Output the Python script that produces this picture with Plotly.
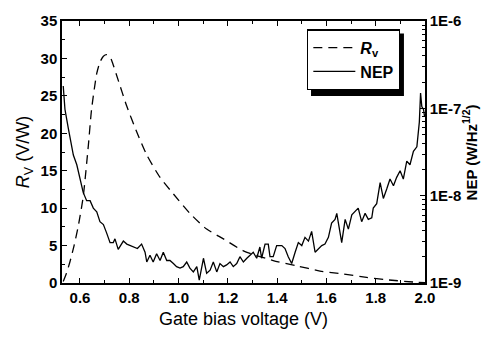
import numpy as np
import plotly.graph_objects as go

# ---- data ----
volt_rv = [0.532, 0.545, 0.559, 0.576, 0.593, 0.613, 0.634, 0.647, 0.668, 0.681, 0.695, 0.708,
           0.720, 0.729, 0.755, 0.790, 0.830, 0.871, 0.925, 0.979, 1.046, 1.114, 1.182, 1.263,
           1.384, 1.479, 1.574, 1.669, 1.763, 1.845, 1.953, 2.0]
rv = [0.2, 1.3, 2.8, 5.0, 7.6, 11.5, 18.4, 23.2, 28.0, 29.5, 30.3, 30.5,
      30.3, 29.7, 27.1, 23.6, 20.2, 17.1, 14.1, 11.9, 9.3, 7.2, 5.9, 4.3,
      3.0, 2.3, 1.6, 1.2, 0.74, 0.43, 0.13, 0.05]

volt_nep = [0.532, 0.539, 0.553, 0.573, 0.587, 0.600, 0.613, 0.627, 0.641, 0.654,
            0.668, 0.681, 0.695, 0.708, 0.722, 0.735, 0.742, 0.755, 0.776, 0.790,
            0.803, 0.816, 0.833, 0.850, 0.864, 0.871, 0.884, 0.897, 0.911, 0.925,
            0.938, 0.952, 0.965, 0.979, 0.992, 1.006, 1.019, 1.033, 1.046, 1.060,
            1.074, 1.084, 1.094, 1.101, 1.114, 1.128, 1.141, 1.155, 1.168, 1.182,
            1.195, 1.209, 1.222, 1.236, 1.249, 1.263, 1.277, 1.290, 1.303, 1.317,
            1.330, 1.337, 1.351, 1.364, 1.371, 1.384, 1.398, 1.419, 1.432, 1.445,
            1.459, 1.473, 1.486, 1.500, 1.513, 1.527, 1.540, 1.554, 1.567, 1.581,
            1.594, 1.608, 1.621, 1.635, 1.642, 1.655, 1.662, 1.676, 1.689, 1.703,
            1.716, 1.729, 1.743, 1.757, 1.770, 1.784, 1.790, 1.804, 1.818, 1.831,
            1.845, 1.858, 1.872, 1.885, 1.899, 1.912, 1.926, 1.939, 1.953, 1.967,
            1.977, 1.982, 1.987, 1.994, 1.998]
# NEP in units of 1e-9 W/Hz^1/2
nep_n = [180, 97.3, 58.3, 29.2, 22.6, 16.2, 10.9, 8.77, 8.77, 7.20,
         6.52, 5.04, 4.66, 3.75, 2.90, 2.90, 3.20, 2.43, 3.02, 2.79,
         2.68, 2.58, 2.48, 2.79, 2.25, 1.74, 2.08, 1.74, 2.16, 1.81,
         2.25, 1.81, 1.81, 1.67, 1.54, 1.48, 1.54, 1.74, 1.48, 1.34,
         1.54, 1.08, 1.48, 1.92, 1.29, 1.40, 1.74, 1.34, 1.67, 1.54,
         1.61, 1.74, 1.54, 1.67, 2.00, 1.74, 1.92, 2.08, 2.25, 1.92,
         2.58, 1.92, 2.79, 2.79, 2.00, 2.00, 2.68, 2.68, 2.48, 2.00,
         1.67, 2.25, 2.90, 2.68, 3.33, 3.02, 3.90, 2.25, 2.48, 2.68,
         2.79, 3.33, 4.85, 5.35, 6.27, 3.75, 2.90, 5.35, 4.14, 6.03,
         6.52, 7.20, 5.04, 6.27, 5.35, 5.57, 7.20, 8.10, 14.1, 9.30,
         12.0, 15.5, 13.0, 16.2, 19.3, 15.5, 24.9, 22.6, 32.2, 36.3,
         69.6, 150, 105, 97.3, 81.5]
nep = (np.array(nep_n) * 1e-9).tolist()

x_ticks = [0.6, 0.8, 1.0, 1.2, 1.4, 1.6, 1.8, 2.0]
x_ticktext = ["0.6", "0.8", "1.0", "1.2", "1.4", "1.6", "1.8", "2.0"]
y2_ticks = [1e-9, 1e-8, 1e-7, 1e-6]
y2_ticktext = ["1E-9", "1E-8", "1E-7", "1E-6"]

# ---- styling ----
FONT = "Liberation Sans, Arial, sans-serif"
tickfont = dict(family=FONT, size=15, color="black", weight="bold")
y2_minor = [k * 10.0 ** e for e in (-9, -8, -7) for k in range(2, 10)]

fig = go.Figure()
fig.add_trace(go.Scatter(
    x=volt_rv, y=rv, mode="lines", name="<i>R</i><sub>v</sub>",
    legendgroup="a",
    line=dict(color="black", width=1.3, dash="9px,6px", shape="spline", smoothing=0.6),
))
fig.add_trace(go.Scatter(
    x=volt_nep, y=nep, mode="lines", name="NEP", yaxis="y2",
    legendgroup="b",
    line=dict(color="black", width=1.3),
))

axis_common = dict(showline=True, linecolor="black", linewidth=1.5, ticks="inside",
                   tickcolor="black", tickwidth=1.3, showgrid=False, zeroline=False,
                   tickfont=tickfont)

fig.update_layout(
    width=492, height=338,
    margin=dict(l=62, r=67, t=16, b=53),
    paper_bgcolor="white", plot_bgcolor="white",
    font=dict(family=FONT, color="black"),
    xaxis=dict(range=[0.527, 2.0], tickvals=x_ticks, ticktext=x_ticktext, ticklen=5,
               mirror="ticks",
               minor=dict(dtick=0.1, ticks="inside", ticklen=3, tickcolor="black", showgrid=False),
               title=dict(text="Gate bias voltage (V)", font=dict(size=18, family=FONT), standoff=8),
               **axis_common),
    yaxis=dict(range=[0, 35], dtick=5, ticklen=5,
               minor=dict(dtick=2.5, ticks="inside", ticklen=3, tickcolor="black", showgrid=False),
               title=dict(text="<i>R</i><sub>V</sub> (V/W)", font=dict(size=18, family=FONT), standoff=6),
               **axis_common),
    yaxis2=dict(type="log", range=[-9, -6], overlaying="y", side="right",
                tickvals=y2_ticks, ticktext=y2_ticktext, ticklen=5,
                minor=dict(tickvals=y2_minor, ticks="inside", ticklen=3, tickcolor="black", showgrid=False),
                **axis_common),
    legend=dict(x=0.675, y=0.968, xanchor="left", yanchor="top",
                bgcolor="white", bordercolor="black", borderwidth=1.3,
                itemwidth=42,
                font=dict(family=FONT, size=16, color="black", weight="bold"),
                tracegroupgap=0),
    showlegend=True,
)

# drop shadow behind the legend box
fig.add_shape(type="rect", xref="paper", yref="paper",
              x0=0.686, x1=0.942, y0=0.714, y1=0.952,
              fillcolor="black", line=dict(width=0), layer="above")

# right axis title
fig.add_annotation(text="NEP (W/Hz<sup>1/2</sup>)", xref="paper", yref="paper",
                   x=1.154, y=0.5, textangle=-90, showarrow=False,
                   font=dict(family=FONT, size=15, color="black", weight="bold"))

fig.write_html("out.html")
